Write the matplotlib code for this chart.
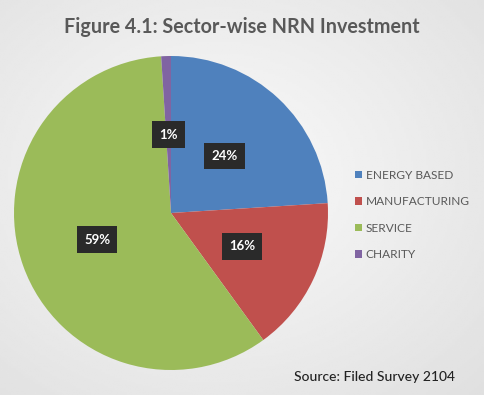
import numpy as np
import matplotlib
matplotlib.use("Agg")
import matplotlib.pyplot as plt
from matplotlib.patches import Patch

plt.rcParams['font.family'] = ['Lato', 'DejaVu Sans']

# Data
sectors = ['ENERGY BASED', 'MANUFACTURING', 'SERVICE', 'CHARITY']
shares = [24, 16, 59, 1]
colors = ['#4F81BD', '#C0504D', '#9BBB59', '#8064A2']

fig = plt.figure(figsize=(4.85, 3.95), dpi=100)
W, H = 485, 395

# soft gray gradient background
bg = fig.add_axes([0, 0, 1, 1])
yy, xx = np.mgrid[0:1:200j, 0:1:200j]
d = np.sqrt(((xx - 0.45) / 0.9) ** 2 + ((yy - 0.55) / 0.9) ** 2)
bg.imshow(0.98 - 0.12 * d, cmap='gray', vmin=0, vmax=1, extent=[0, 1, 0, 1],
          aspect='auto', origin='lower')
bg.axis('off')

# pie: centre (171, 213) px, radius 157 px
cx, cy, r = 171, 213, 157
ax = fig.add_axes([(cx - r) / W, (H - cy - r) / H, 2 * r / W, 2 * r / H])
wedges, texts, autotexts = ax.pie(
    shares, colors=colors, startangle=90, counterclock=False,
    autopct=lambda p: f'{round(p)}%', pctdistance=0.5,
    textprops=dict(color='white', fontsize=9.5, fontweight='bold'))
for t in autotexts:
    t.set_bbox(dict(boxstyle='square,pad=0.55', facecolor='#2a2a2a', edgecolor='none'))
ax.set_xlim(-1, 1)
ax.set_ylim(-1, 1)
ax.set_aspect('equal')

fig.text(242 / W, 1 - 27 / H, 'Figure 4.1: Sector-wise NRN Investment',
         ha='center', va='center', fontsize=14.2, fontweight='bold', color='#595959')

handles = [Patch(facecolor=c, edgecolor='none') for c in colors]
fig.legend(handles, sectors, loc='center left', bbox_to_anchor=(344 / W, 1 - 215 / H),
           frameon=False, fontsize=8.6, labelcolor='#595959',
           handlelength=0.6, handleheight=0.6, handletextpad=0.3, labelspacing=1.3)

fig.text(455 / W, 1 - 377 / H, 'Source: Filed Survey 2104', ha='right', va='center',
         fontsize=10, color='#222222', fontweight='medium')

fig.savefig('out.png', dpi=100)
